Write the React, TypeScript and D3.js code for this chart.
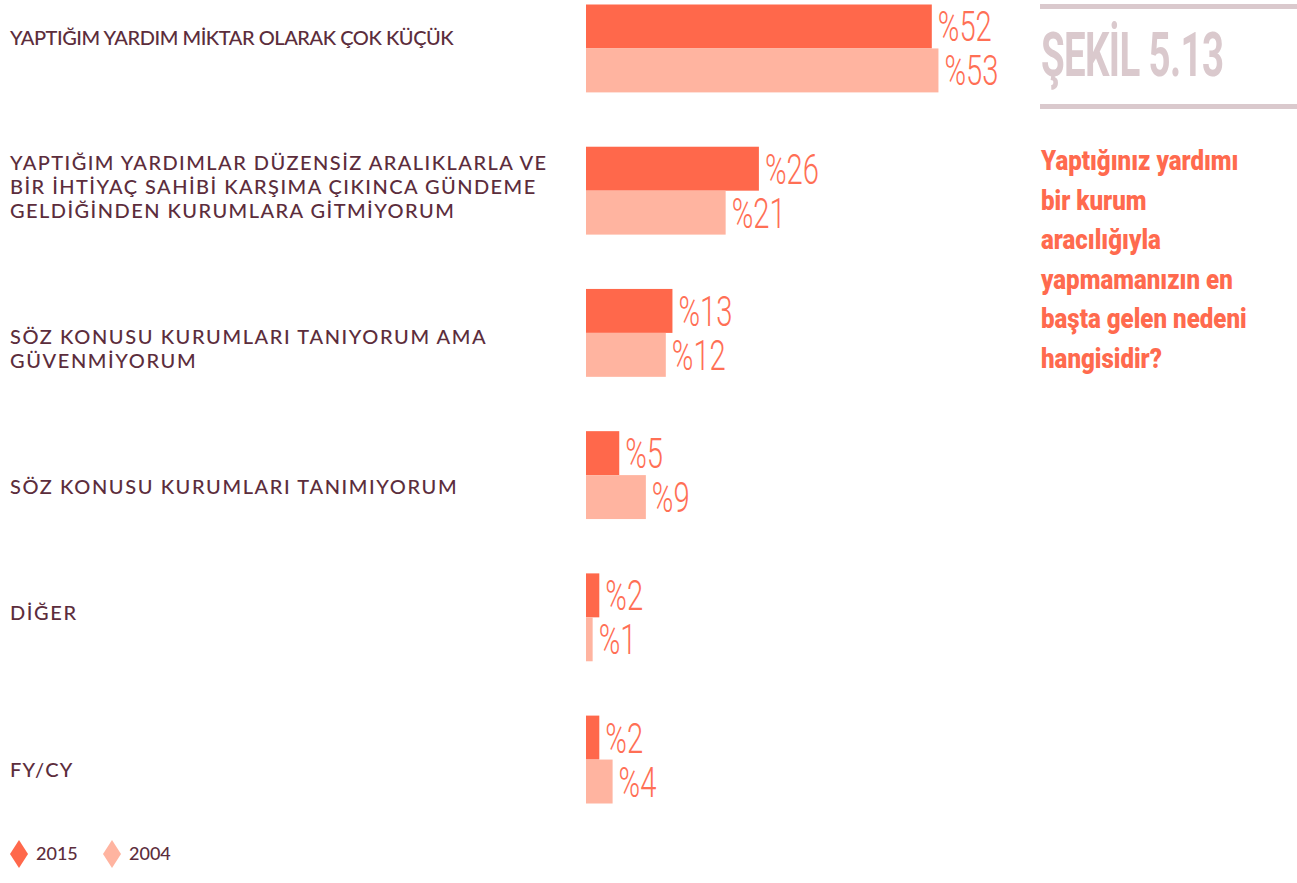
import React, { useEffect, useRef } from "react";
import * as d3 from "d3";

// reasons (line breaks as in the original figure)
const categories = [
  "YAPTIĞIM YARDIM MİKTAR OLARAK ÇOK KÜÇÜK",
  "YAPTIĞIM YARDIMLAR DÜZENSİZ ARALIKLARLA VE\nBİR İHTİYAÇ SAHİBİ KARŞIMA ÇIKINCA GÜNDEME\nGELDİĞİNDEN KURUMLARA GİTMİYORUM",
  "SÖZ KONUSU KURUMLARI TANIYORUM AMA\nGÜVENMİYORUM",
  "SÖZ KONUSU KURUMLARI TANIMIYORUM",
  "DİĞER",
  "FY/CY",
];
const series = ["2015", "2004"];
const values2015 = [52, 26, 13, 5, 2, 2];
const values2004 = [53, 21, 12, 9, 1, 4];

const figureTitle = "ŞEKİL 5.13";
const questionLines = [
  "Yaptığınız yardımı",
  "bir kurum",
  "aracılığıyla",
  "yapmamanızın en",
  "başta gelen nedeni",
  "hangisidir?",
];

// layout: first-line baseline of each label (from group top) and its tracking
const labelOffsets = [40, 23, 55, 63, 47, 61];
const labelTracking = [-0.45, 1.45, 1.6, 1.6, 1.6, 1.3];

const W = 1297;
const H = 883;
const dark = "#ff684b";
const light = "#ffb4a0";
const textColor = "#5c2d3c";
const titleColor = "#dac9cd";
const valueColor = "#ff6f55";

const App = () => {
  const ref = useRef<SVGSVGElement>(null);

  useEffect(() => {
    const svg = d3.select(ref.current);
    svg.selectAll("*").remove();

    const x = d3.scaleLinear().domain([0, 100]).range([586, 586 + 665]);
    const y = d3
      .scaleBand()
      .domain(categories)
      .range([4.5, 803.5])
      .paddingInner(0.382)
      .paddingOuter(0);
    const ySub = d3.scaleBand().domain(series).range([0, y.bandwidth()]).padding(0);

    const rows = categories.map((c, i) => ({
      cat: c,
      i,
      vals: [
        { s: "2015", v: values2015[i] },
        { s: "2004", v: values2004[i] },
      ],
    }));

    const groups = svg
      .selectAll("g.row")
      .data(rows)
      .join("g")
      .attr("class", "row")
      .attr("transform", (d) => `translate(0,${y(d.cat)})`);

    // category labels
    groups
      .append("text")
      .attr("x", 10)
      .attr("y", (d) => labelOffsets[d.i])
      .attr("fill", textColor)
      .style("font-family", "Lato, sans-serif")
      .style("font-size", "20px")
      .style("font-weight", 500)
      .style("letter-spacing", (d) => `${labelTracking[d.i]}px`)
      .selectAll("tspan")
      .data((d) => d.cat.split("\n"))
      .join("tspan")
      .attr("x", 10)
      .attr("dy", (_, j) => (j === 0 ? 0 : 24))
      .text((d) => d);

    // bars
    groups
      .selectAll("rect")
      .data((d) => d.vals)
      .join("rect")
      .attr("x", x(0))
      .attr("y", (d) => ySub(d.s)!)
      .attr("width", (d) => x(d.v) - x(0))
      .attr("height", ySub.bandwidth())
      .attr("fill", (d) => (d.s === "2015" ? dark : light));

    // value labels
    groups
      .selectAll("text.val")
      .data((d) => d.vals)
      .join("text")
      .attr("class", "val")
      .attr(
        "transform",
        (d) =>
          `translate(${x(d.v) + 6},${ySub(d.s)! + ySub.bandwidth() / 2 + 15}) scale(0.68,1)`
      )
      .attr("fill", valueColor)
      .style("font-family", "Roboto, sans-serif")
      .style("font-size", "43px")
      .style("font-weight", 300)
      .text((d) => `%${d.v}`);

    // title block
    svg
      .append("rect")
      .attr("x", 1040)
      .attr("y", 4)
      .attr("width", W - 1040)
      .attr("height", 5)
      .attr("fill", titleColor);
    svg
      .append("rect")
      .attr("x", 1040)
      .attr("y", 104)
      .attr("width", W - 1040)
      .attr("height", 5)
      .attr("fill", titleColor);
    svg
      .append("text")
      .attr("transform", "translate(1041,76) scale(0.62,1)")
      .attr("fill", titleColor)
      .style("font-family", "Roboto, sans-serif")
      .style("font-size", "62px")
      .style("font-weight", 700)
      .style("letter-spacing", "-1px")
      .text(figureTitle);

    svg
      .append("g")
      .selectAll("text")
      .data(questionLines)
      .join("text")
      .attr("transform", (_, i) => `translate(1041,${170 + i * 39.5}) scale(0.86,1)`)
      .attr("fill", "#ff6a4e")
      .style("font-family", "Roboto, sans-serif")
      .style("font-size", "28px")
      .style("font-weight", 900)
      .text((d) => d);

    // legend
    const legend = svg
      .append("g")
      .selectAll("g")
      .data(series)
      .join("g")
      .attr("transform", (_, i) => `translate(${10 + i * 93},0)`);
    legend
      .append("path")
      .attr("d", "M9,840 L18,854 L9,868 L0,854 Z")
      .attr("fill", (d) => (d === "2015" ? dark : light));
    legend
      .append("text")
      .attr("x", 26)
      .attr("y", 860)
      .attr("fill", textColor)
      .style("font-family", "Lato, sans-serif")
      .style("font-size", "18px")
      .style("font-weight", 500)
      .text((d) => d);
  }, []);

  return (
    <svg
      ref={ref}
      width={W}
      height={H}
      style={{ position: "absolute", left: 0, top: 0, background: "#fff" }}
    />
  );
};

export default App;
